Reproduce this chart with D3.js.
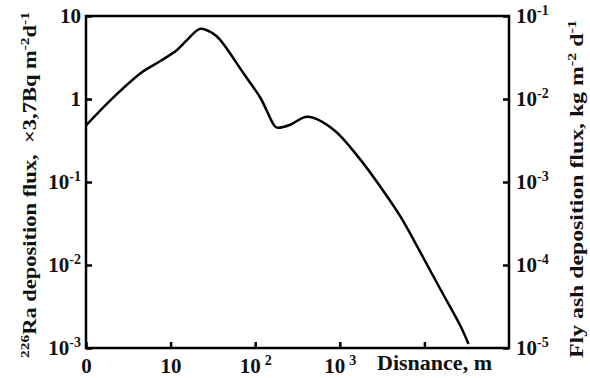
<!DOCTYPE html>
<html>
  <head>
    <meta charset="utf-8" />
    <title>Deposition flux</title>
    <script src="https://d3js.org/d3.v7.min.js"></script>
    <style>
      body { margin: 0; background: #fff; }
      text { font-family: "Liberation Serif", "DejaVu Serif", serif; font-weight: bold; fill: #111; white-space: pre; }
    </style>
  </head>
  <body>
    <svg id="viz"></svg>

    <script>
        // distance, m  vs  226Ra deposition flux (x3.7 Bq m-2 d-1)
        var distance = [1, 2.14, 4.5, 7.5, 11.9, 15.7, 22.3, 31, 38.5, 72, 115, 172, 187, 260, 412, 838,
                        1750, 3010, 5200, 8970, 15450, 26700, 33200];
        var flux = [0.48, 1.06, 2.07, 2.85, 3.9, 5.15, 7.0, 6.25, 5.15, 2.07, 1.035, 0.464, 0.45, 0.49, 0.61, 0.43,
                    0.186, 0.088, 0.0385, 0.0142, 0.0051, 0.00184, 0.00112];

        var xTicks = [1, 10, 100, 1000, 10000];
        var xTickLabels = [["0", ""], ["10", ""], ["10", "2"], ["10", "3"], ["", ""]];
        var leftTicks = [10, 1, 0.1, 0.01, 0.001];
        var leftTickLabels = [["10", ""], ["1", ""], ["10", "-1"], ["10", "-2"], ["10", "-3"]];
        var rightTicks = [0.1, 0.01, 0.001, 0.0001, 0.00001];
        var rightTickLabels = [["10", "-1"], ["10", "-2"], ["10", "-3"], ["10", "-4"], ["10", "-5"]];

        var width = 590, height = 378;
        var margin = {left: 86, right: 81, top: 16, bottom: 30};

        var svg = d3.select("#viz")
            .attr("width", width)
            .attr("height", height);

        var x = d3.scaleLog().domain([1, 1e5])
            .range([margin.left, width - margin.right]);
        var y = d3.scaleLog().domain([1e-3, 10])
            .range([height - margin.bottom, margin.top]);
        var y2 = d3.scaleLog().domain([1e-5, 1e-1])
            .range([height - margin.bottom, margin.top]);

        function labelTicks(sel, labels, sup) {
            sel.selectAll(".tick text").each(function(d, i) {
                var t = d3.select(this).text("");
                t.append("tspan").text(labels[i][0]);
                if (labels[i][1]) {
                    t.append("tspan").attr("dy", -8).attr("dx", sup)
                        .style("font-size", "14px").text(labels[i][1]);
                }
            });
        }

        var gx = svg.append("g")
            .attr("transform", "translate(0," + (height - margin.bottom) + ")")
            .call(d3.axisBottom(x).tickValues(xTicks).tickSize(-6).tickPadding(10).tickFormat(""));
        labelTicks(gx, xTickLabels, 4);
        gx.selectAll(".tick text").attr("dy", "0.71em").style("font-size", "21px").attr("text-anchor", "middle");

        var gl = svg.append("g")
            .attr("transform", "translate(" + margin.left + ",0)")
            .call(d3.axisLeft(y).tickValues(leftTicks).tickSize(-6).tickPadding(5).tickFormat(""));
        labelTicks(gl, leftTickLabels, 0);
        gl.selectAll(".tick text").style("font-size", "21px").attr("dy", "0.32em");

        var gr = svg.append("g")
            .attr("transform", "translate(" + (width - margin.right) + ",0)")
            .call(d3.axisRight(y2).tickValues(rightTicks).tickSize(-6).tickPadding(7).tickFormat(""));
        labelTicks(gr, rightTickLabels, 0);
        gr.selectAll(".tick text").style("font-size", "21px").attr("dy", "0.32em");

        svg.selectAll(".domain").remove();
        svg.selectAll(".tick line").attr("stroke", "#000").attr("stroke-width", 2.5);
        svg.selectAll(".tick text").attr("fill", "#111")
            .style("font-family", "'Liberation Serif', serif").style("font-weight", "bold");

        // frame
        svg.append("rect")
            .attr("x", margin.left).attr("y", margin.top)
            .attr("width", width - margin.left - margin.right)
            .attr("height", height - margin.top - margin.bottom)
            .attr("fill", "none").attr("stroke", "#000").attr("stroke-width", 2.5);

        var line = d3.line()
            .x(function(d, i) { return x(distance[i]); })
            .y(function(d) { return y(d); })
            .curve(d3.curveCatmullRom.alpha(0.5));

        svg.append("path")
            .datum(flux)
            .attr("d", line)
            .attr("fill", "none")
            .attr("stroke", "#000")
            .attr("stroke-width", 2.5);

        // axis titles
        svg.append("text")
            .attr("x", 377).attr("y", 370)
            .attr("textLength", 115)
            .attr("lengthAdjust", "spacingAndGlyphs")
            .style("font-size", "20px")
            .text("Disnance, m");

        // vertical titles: stretched along their length to span the same height as the original
        function fitVertical(t, bx, yTop, yBottom) {
            var w = t.node().getBBox().width;
            var k = (yBottom - yTop) / w;
            t.attr("transform", "translate(" + bx + "," + ((yTop + yBottom) / 2) + ") rotate(-90) scale(" + k + ",1)");
        }

        var lt = svg.append("text")
            .attr("text-anchor", "middle")
            .style("font-size", "19px");
        lt.append("tspan").attr("dy", -7).style("font-size", "13px").text("226");
        lt.append("tspan").attr("dy", 7).text("Ra deposition flux,  \u00d73,7Bq m");
        lt.append("tspan").attr("dy", -7).style("font-size", "13px").text("-2");
        lt.append("tspan").attr("dy", 7).text("d");
        lt.append("tspan").attr("dy", -7).style("font-size", "13px").text("-1");
        fitVertical(lt, 36, 12, 358);

        var rt = svg.append("text")
            .attr("text-anchor", "middle")
            .style("font-size", "19px");
        rt.append("tspan").text("Fly ash deposition flux, kg m");
        rt.append("tspan").attr("dy", -7).style("font-size", "13px").text("-2");
        rt.append("tspan").attr("dy", 7).text(" d");
        rt.append("tspan").attr("dy", -7).style("font-size", "13px").text("-1");
        fitVertical(rt, 583, 20, 358);
    </script>
  </body>
</html>
